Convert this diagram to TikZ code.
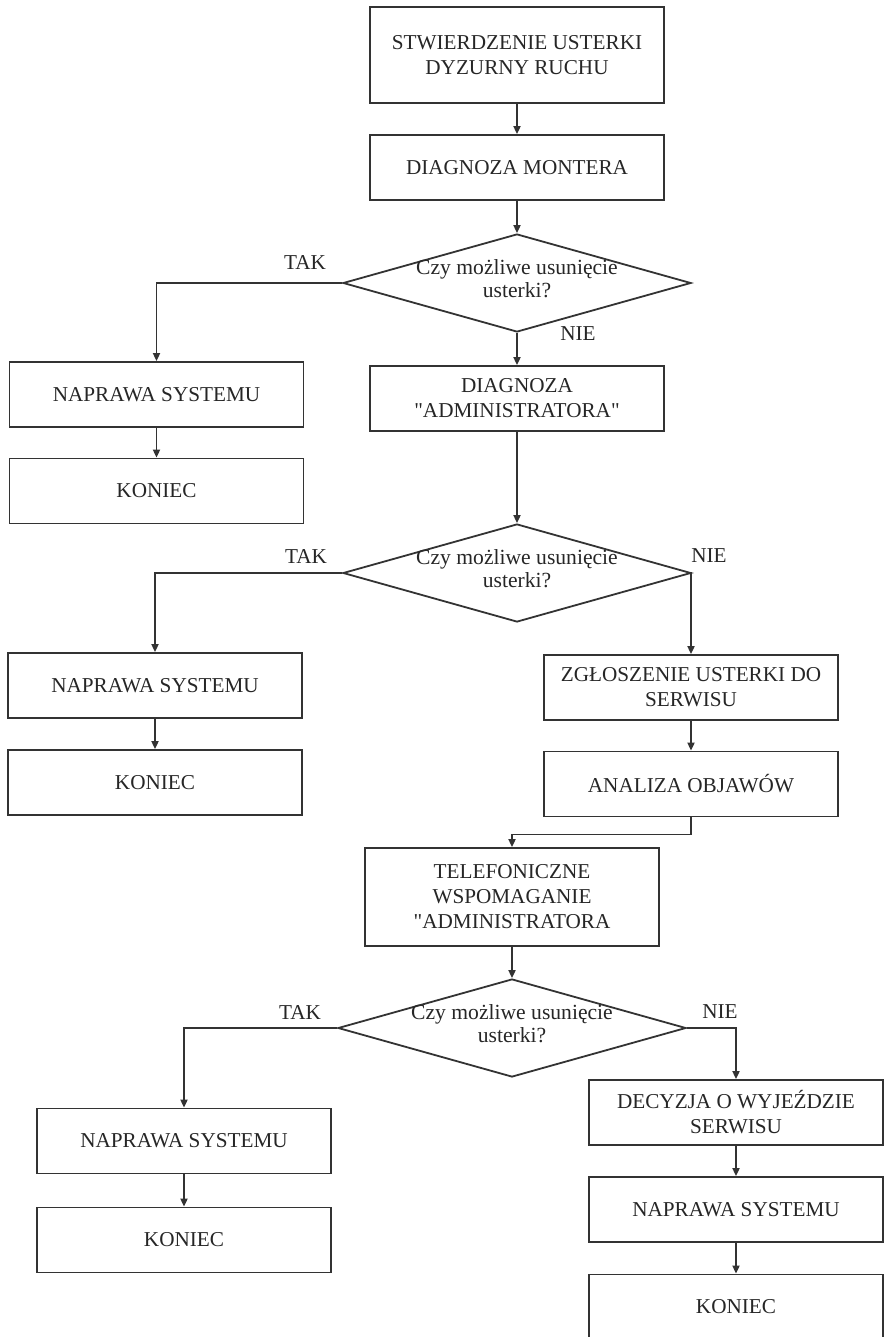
\documentclass[tikz,border=0pt]{standalone}
\usepackage{fontspec}
\setmainfont{Liberation Serif}
\usetikzlibrary{shapes.geometric,arrows.meta}
\tikzset{
  box/.style={draw, minimum width=147pt, minimum height=32.5pt, align=center, inner sep=2pt},
  decision/.style={draw, diamond, minimum width=174pt, minimum height=49pt, inner sep=0pt},
  dtext/.style={align=center, inner sep=0pt, font=\fontsize{10.8}{11.5}\selectfont},
  arr/.style={-{Triangle[length=4pt,width=3.5pt]}}
}
\begin{document}
\begin{tikzpicture}[x=0.5pt, y=-0.5pt, line width=0.9pt, draw=black!80, text=black!85,
  font=\fontsize{10.6}{12.5}\selectfont]
  \useasboundingbox (0,0) rectangle (886,1337);
  \node[box, minimum height=48pt] (start) at (517,55) {STWIERDZENIE USTERKI\\DYZURNY RUCHU};
  \node[box] (mont) at (517,167.5) {DIAGNOZA MONTERA};
  \node[decision] (d1) at (517,283) {};
  \node[dtext] (d1t) at (517,279) {Czy możliwe usunięcie\\usterki?};
  \node[box] (nap1) at (156.5,394.5) {NAPRAWA SYSTEMU};
  \node[box] (kon1) at (156.5,491) {KONIEC};
  \node[box] (adm) at (517,398.5) {DIAGNOZA\\\textquotedbl ADMINISTRATORA\textquotedbl};
  \node[decision] (d2) at (517,573) {};
  \node[dtext] (d2t) at (517,569) {Czy możliwe usunięcie\\usterki?};
  \node[box] (nap2) at (155,685.5) {NAPRAWA SYSTEMU};
  \node[box] (kon2) at (155,782.5) {KONIEC};
  \node[box] (zgl) at (691,687.5) {ZGŁOSZENIE USTERKI DO\\SERWISU};
  \node[box] (ana) at (691,784) {ANALIZA OBJAWÓW};
  \node[box, minimum height=49pt] (tel) at (512,897) {TELEFONICZNE\\WSPOMAGANIE\\\textquotedbl ADMINISTRATORA};
  \node[decision] (d3) at (512,1028) {};
  \node[dtext] (d3t) at (512,1024) {Czy możliwe usunięcie\\usterki?};
  \node[box] (nap3) at (184,1141) {NAPRAWA SYSTEMU};
  \node[box] (kon3) at (184,1240) {KONIEC};
  \node[box] (dec) at (736,1112.5) {DECYZJA O WYJEŹDZIE\\SERWISU};
  \node[box] (nap4) at (736,1209.5) {NAPRAWA SYSTEMU};
  \node[box] (kon4) at (736,1307) {KONIEC};
  \node (t1) at (305,263) {TAK};
  \node (n1) at (578,334) {NIE};
  \node (t2) at (306,556) {TAK};
  \node (n2) at (709,556) {NIE};
  \node (t3) at (300,1012) {TAK};
  \node (n3) at (720,1012) {NIE};
  \draw[arr] (start) -- (mont);
  \draw[arr] (mont) -- (d1);
  \draw[arr] (d1.west) -| (nap1.north);
  \draw[arr] (nap1) -- (kon1);
  \draw[arr] (d1.south) -- (adm.north);
  \draw[arr] (adm) -- (d2);
  \draw[arr] (d2.west) -| (nap2.north);
  \draw[arr] (nap2) -- (kon2);
  \draw[arr] (d2.east) -| (zgl.north);
  \draw[arr] (zgl) -- (ana);
  \draw[arr] (ana.south) -- ++(0,17) -| (tel.north);
  \draw[arr] (tel) -- (d3);
  \draw[arr] (d3.west) -| (nap3.north);
  \draw[arr] (nap3) -- (kon3);
  \draw[arr] (d3.east) -| (dec.north);
  \draw[arr] (dec) -- (nap4);
  \draw[arr] (nap4) -- (kon4);
\end{tikzpicture}
\end{document}
